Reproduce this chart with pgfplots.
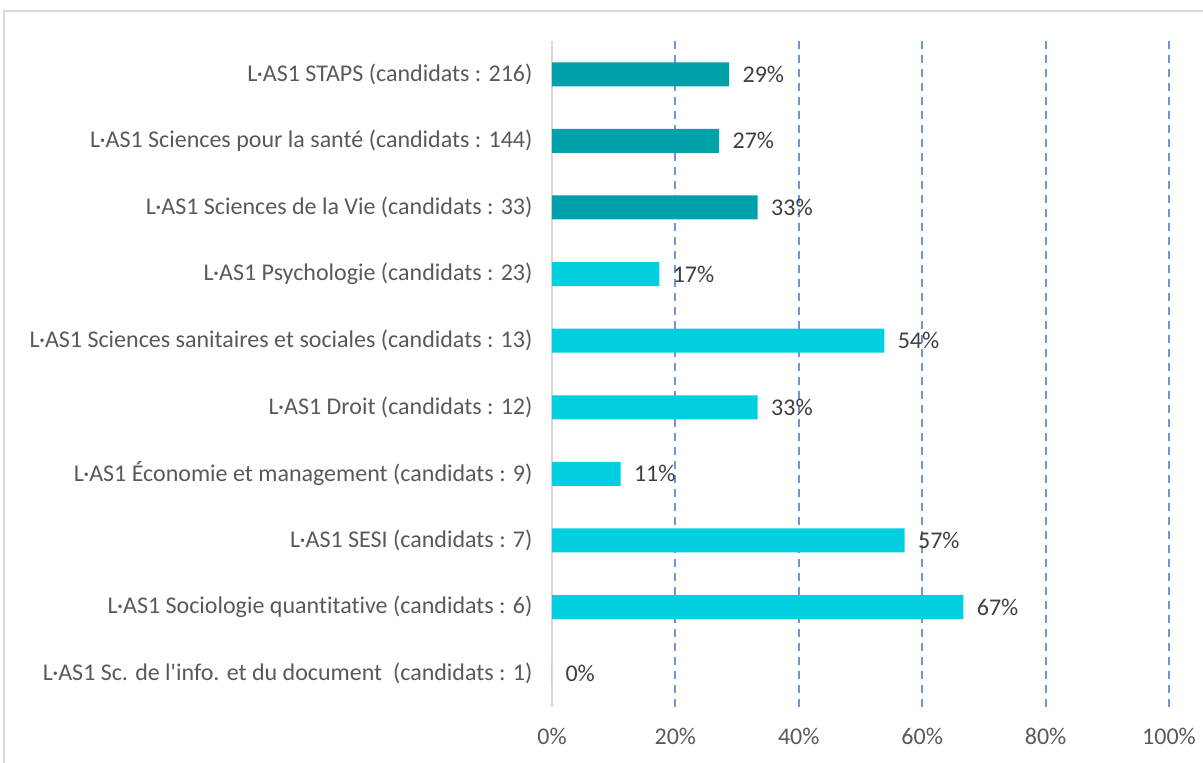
\documentclass[border=0pt]{standalone}
\usepackage{fontspec}
\setmainfont{Carlito}[Ligatures={TeXOff,NoCommon}]
\usepackage{pgfplots}
\pgfplotsset{compat=1.18}
\usepackage{pgfplotstable}
\definecolor{tealbar}{HTML}{00A1AB}
\definecolor{cyanbar}{HTML}{00CFDF}
\definecolor{gridblue}{HTML}{7094D6}
\definecolor{axgray}{HTML}{D9D9D9}
\definecolor{txt}{HTML}{595959}
\definecolor{lbl}{HTML}{404040}

\pgfplotstableread{
y x lab
9 28.70 29
8 27.08 27
7 33.33 33
}\tealdata
\pgfplotstableread{
y x lab
6 17.39 17
5 53.85 54
4 33.33 33
3 11.11 11
2 57.14 57
1 66.67 67
0 0 0
}\cyandata

\begin{document}
\begin{tikzpicture}
\path[use as bounding box] (0pt,0pt) rectangle (1203pt,763pt);
\draw[axgray, line width=1.2pt] (4pt,-20pt) -- (4pt,752pt) -- (1230pt,752pt);
\begin{axis}[
  at={(552pt,56pt)}, anchor=south west,
  scale only axis, width=617pt, height=666pt,
  xmin=0, xmax=100, ymin=-0.5, ymax=9.5,
  xbar, bar width=24pt,
  every axis plot/.append style={bar shift=0pt, draw=none},
  font=\fontsize{24}{28}\selectfont,
  xtick={0,20,40,60,80,100},
  xticklabels={0\%,20\%,40\%,60\%,80\%,100\%},
  extra x ticks={20,40,60,80,100},
  extra x tick labels={},
  extra x tick style={grid=major, major grid style={gridblue, dash pattern=on 8pt off 6pt, line width=2pt}},
  major tick length=0pt,
  ytick={0,...,9},
  yticklabels={
    {L·AS1 Sc. de l'info. et du document~ (candidats : 1)},
    {L·AS1 Sociologie quantitative (candidats : 6)},
    {L·AS1 SESI (candidats : 7)},
    {L·AS1 Économie et management (candidats : 9)},
    {L·AS1 Droit (candidats : 12)},
    {L·AS1 Sciences sanitaires et sociales (candidats : 13)},
    {L·AS1 Psychologie (candidats : 23)},
    {L·AS1 Sciences de la Vie (candidats : 33)},
    {L·AS1 Sciences pour la santé (candidats : 144)},
    {L·AS1 STAPS (candidats : 216)}},
  axis x line*=bottom, axis y line*=left,
  x axis line style={draw=none},
  y axis line style={draw=axgray, line width=1.5pt},
  xticklabel style={text=txt, yshift=-18pt},
  yticklabel style={text=txt, xshift=-16pt},
  point meta=explicit symbolic,
  nodes near coords={\pgfplotspointmeta\%},
  nodes near coords style={text=lbl, anchor=west, xshift=10pt, font=\fontsize{24}{28}\selectfont},
  clip=false,
]
\addplot[fill=tealbar] table[x=x, y=y, meta=lab] {\tealdata};
\addplot[fill=cyanbar] table[x=x, y=y, meta=lab] {\cyandata};
\end{axis}
\end{tikzpicture}
\end{document}
